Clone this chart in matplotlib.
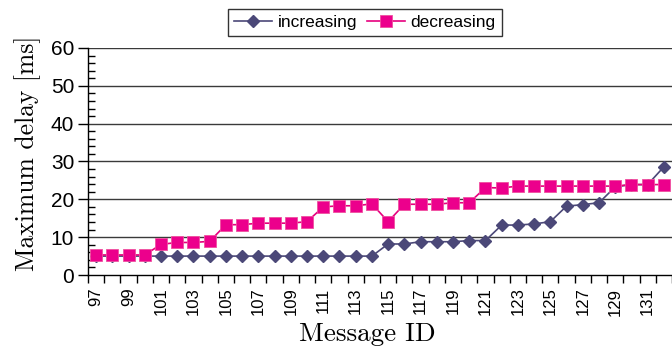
import numpy as np
import matplotlib
matplotlib.use('Agg')
import matplotlib.pyplot as plt

# Datos
message_ids = list(range(97, 133))
increasing = [5.0, 5.0, 5.0, 5.0, 5.0, 5.0, 5.0, 5.0, 5.0, 5.0, 5.0, 5.0,
              5.0, 5.0, 5.0, 5.0, 5.0, 5.0, 8.2, 8.2, 8.8, 8.8, 8.8, 9.1,
              9.1, 13.2, 13.2, 13.5, 14.1, 18.2, 18.6, 19.1, 23.3, 23.9,
              23.9, 28.6]
decreasing = [5.3, 5.3, 5.3, 5.3, 8.1, 8.6, 8.6, 8.9, 13.3, 13.3, 13.7, 13.7,
              13.7, 14.1, 18.0, 18.3, 18.3, 18.8, 14.1, 18.7, 18.7, 18.7, 19.1,
              19.1, 23.1, 23.0, 23.5, 23.5, 23.5, 23.5, 23.5, 23.5, 23.5,
              23.9, 23.9, 23.9]
y_ticks = [0, 10, 20, 30, 40, 50, 60]

x = np.arange(len(message_ids))

fig = plt.figure(figsize=(6.72, 3.49), dpi=100)
ax = fig.add_axes([0.131, 0.212, 0.869, 0.6505])

# Rejilla horizontal
for yv in y_ticks[1:]:
    ax.axhline(yv, color='#3a3a3a', lw=1.0, zorder=1)

ax.plot(x, increasing, color='#4b4878', lw=1.2, marker='D', markersize=6,
        markerfacecolor='#4b4878', markeredgecolor='#4b4878', label='increasing', zorder=3)
ax.plot(x, decreasing, color='#e6007e', lw=1.2, marker='s', markersize=8.5,
        markerfacecolor='#ec008c', markeredgecolor='#f0509f', markeredgewidth=0.6,
        label='decreasing', zorder=4)

ax.set_ylim(0, 60)
ax.set_xlim(-0.5, 35.3)

# Ejes
for s in ['top', 'right']:
    ax.spines[s].set_visible(False)
ax.spines['left'].set_linewidth(1.0)
ax.spines['bottom'].set_linewidth(1.0)

ax.set_yticks(y_ticks)
ax.set_yticks(np.arange(0, 61, 2), minor=True)
ax.tick_params(axis='y', which='major', direction='out', length=7, width=1,
               labelsize=15, pad=3)
ax.tick_params(axis='y', which='minor', direction='in', length=5, width=1)
for lab in ax.get_yticklabels():
    lab.set_fontfamily('Liberation Sans')

# Marcas entre categorias, etiquetas en el centro
ax.set_xticks(np.arange(-0.5, 36, 1))
ax.set_xticklabels([])
ax.tick_params(axis='x', which='major', direction='out', length=6, width=1)
lab_pos = x[::2]
ax.set_xticks(lab_pos, minor=True)
ax.set_xticklabels([str(message_ids[i]) for i in lab_pos], minor=True,
                   rotation=90, fontsize=12, fontfamily='Liberation Sans')
ax.tick_params(axis='x', which='minor', length=0, pad=9)

ax.set_xlabel('Message ID', fontfamily='cmr10', fontsize=19.5, va='top')
ax.xaxis.set_label_coords(0.479, -0.21)
ax.set_ylabel('Maximum delay [ms]', fontfamily='cmr10', fontsize=18.5, va='center')
ax.yaxis.set_label_coords(-0.103, 0.537)

leg = fig.legend(loc='upper center', bbox_to_anchor=(0.543, 1.0), ncol=2,
                 frameon=True, fancybox=False, edgecolor='black',
                 handlelength=2.2, columnspacing=0.6, handletextpad=0.3,
                 borderpad=0.35, prop={'family': 'Liberation Sans', 'size': 12.5})
leg.get_frame().set_linewidth(1.0)

fig.savefig('out.png', dpi=100)
